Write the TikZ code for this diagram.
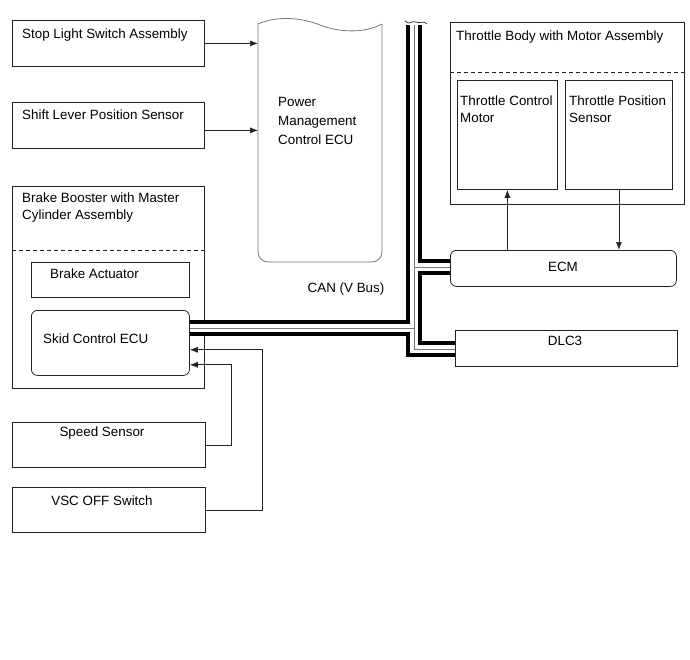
\documentclass[tikz,border=0pt]{standalone}
\usepackage{fontspec}
\setmainfont{Liberation Sans}
\usetikzlibrary{arrows.meta,positioning,calc}
\definecolor{VscLine}{RGB}{35,35,35}
\definecolor{VscGray}{RGB}{120,120,120}
\tikzset{
  vsc/box/.style={
    draw=VscLine,
    line width=0.8pt,
    fill=white,
    anchor=north west,
    inner sep=0pt
  },
  vsc/rbox/.style={
    vsc/box,
    rounded corners=6pt
  },
  vsc/ghost/.style={
    anchor=north west,
    inner sep=0pt
  },
  vsc/text/.style={
    font=\fontsize{13.4}{17}\selectfont,
    text=black,
    inner sep=0pt,
    anchor=north west,
    align=left
  },
  vsc/ctext/.style={
    font=\fontsize{13.4}{17}\selectfont,
    text=black,
    inner sep=0pt,
    anchor=north
  },
  vsc/arrow/.style={-{Latex[length=8pt,width=6pt]}, line width=0.7pt, draw=VscLine},
  vsc/dash/.style={dashed, dash pattern=on 4pt off 3pt, line width=0.7pt, draw=VscLine},
  vsc/canout/.style={line width=16pt, draw=black},
  vsc/canin/.style={line width=8.5pt, draw=white},
  vsc/canmid/.style={line width=0.8pt, draw=VscGray}
}

\begin{document}
\begin{tikzpicture}[x=1pt,y=-1pt]
  \useasboundingbox (0,0) rectangle (690,659);

  % left side inputs
  \node[vsc/box,minimum width=192pt,minimum height=46pt] (stop) at (12,20) {};
  \node[vsc/text] (stoptxt) at (22,29) {Stop Light Switch Assembly};
  \node[vsc/box,minimum width=192pt,minimum height=46pt] (shift) at (12,102) {};
  \node[vsc/text] (shifttxt) at (22,110) {Shift Lever Position Sensor};

  % power management ecu (torn top)
  \node[vsc/ghost,minimum width=124pt,minimum height=240pt] (pmecu) at (258,22) {};
  \draw[VscGray,line width=0.8pt,rounded corners=10pt]
    (258,24) -- (258,262) -- (382,262) -- (382,24);
  \draw[VscGray,line width=0.8pt]
    (258,24) .. controls (276,16) and (300,17) .. (320,25)
    .. controls (340,33) and (366,33) .. (382,24);
  \node[vsc/text] (pmtxt) at (278,97) {Power\\[2pt]Management\\[2pt]Control ECU};

  % brake booster
  \node[vsc/box,minimum width=192pt,minimum height=202pt] (booster) at (12,186) {};
  \node[vsc/text] (boostertxt) at (22,193) {Brake Booster with Master\\Cylinder Assembly};
  \draw[vsc/dash] (booster.west |- 0,250) -- (booster.east |- 0,250);
  \node[vsc/box,minimum width=158pt,minimum height=35pt] (actuator) at (31,262) {};
  \node[vsc/text] (actuatortxt) at (50,269) {Brake Actuator};
  \node[vsc/rbox,minimum width=158pt,minimum height=65pt] (skid) at (31,310) {};
  \node[vsc/text] (skidtxt) at (43,334) {Skid Control ECU};

  % switches and sensors
  \node[vsc/box,minimum width=193pt,minimum height=45pt] (speed) at (12,422) {};
  \node[vsc/ctext] (speedtxt) at (102,427) {Speed Sensor};
  \node[vsc/box,minimum width=193pt,minimum height=45pt] (vscoff) at (12,487) {};
  \node[vsc/ctext] (vscofftxt) at (102,496) {VSC OFF Switch};

  % throttle body
  \node[vsc/box,minimum width=234pt,minimum height=182pt] (throttle) at (450,22) {};
  \node[vsc/text] (throttletxt) at (456,31) {Throttle Body with Motor Assembly};
  \draw[vsc/dash] (throttle.west |- 0,72) -- (throttle.east |- 0,72);
  \node[vsc/box,minimum width=100pt,minimum height=109pt] (tcm) at (457,80) {};
  \node[vsc/text] (tcmtxt) at (460,96) {Throttle Control\\Motor};
  \node[vsc/box,minimum width=107pt,minimum height=109pt] (tps) at (565,80) {};
  \node[vsc/text] (tpstxt) at (569,96) {Throttle Position\\Sensor};

  % ecm and dlc3
  \node[vsc/rbox,minimum width=226pt,minimum height=36pt] (ecm) at (450,250) {};
  \node[vsc/ctext] (ecmtxt) at (563,262) {ECM};
  \node[vsc/box,minimum width=222pt,minimum height=36pt] (dlc) at (455,330) {};
  \node[vsc/ctext] (dlctxt) at (565,336) {DLC3};

  \node[vsc/ctext] (cantxt) at (346,283) {CAN (V Bus)};

  % can bus
  \coordinate (cantop) at (414,25);
  \coordinate (canskid) at (414,328);
  \coordinate (canecm) at (414,267);
  \coordinate (candlc) at (414,349);
  \foreach \lay in {vsc/canout,vsc/canin,vsc/canmid}{
    \draw[\lay] (cantop) -- (candlc) -- (candlc -| dlc.west);
    \draw[\lay] (canskid) -- (canskid -| skid.east);
    \draw[\lay] (canecm) -- (canecm -| ecm.west);
  }
  \draw[VscLine,line width=0.7pt]
    (405,21) .. controls (409,26) and (412,20) .. (416,22)
    .. controls (420,24) and (424,20) .. (427,24);

  % connectors
  \draw[vsc/arrow] (stop.east) -- (stop.east -| pmecu.west);
  \draw[vsc/arrow] ([yshift=-5pt]shift.east) -- ([yshift=-5pt]shift.east -| pmecu.west);
  \draw[vsc/arrow] (ecm.north -| tcm.south) -- (tcm.south);
  \draw[vsc/arrow] (tps.south) -- (tps.south |- ecm.north);
  \draw[vsc/arrow] (speed.east) -- ++(26,0) |- ([yshift=11pt]skid.south east);
  \draw[vsc/arrow] (vscoff.east) -- ++(57,0) |- ([yshift=26pt]skid.south east);
\end{tikzpicture}
\end{document}
